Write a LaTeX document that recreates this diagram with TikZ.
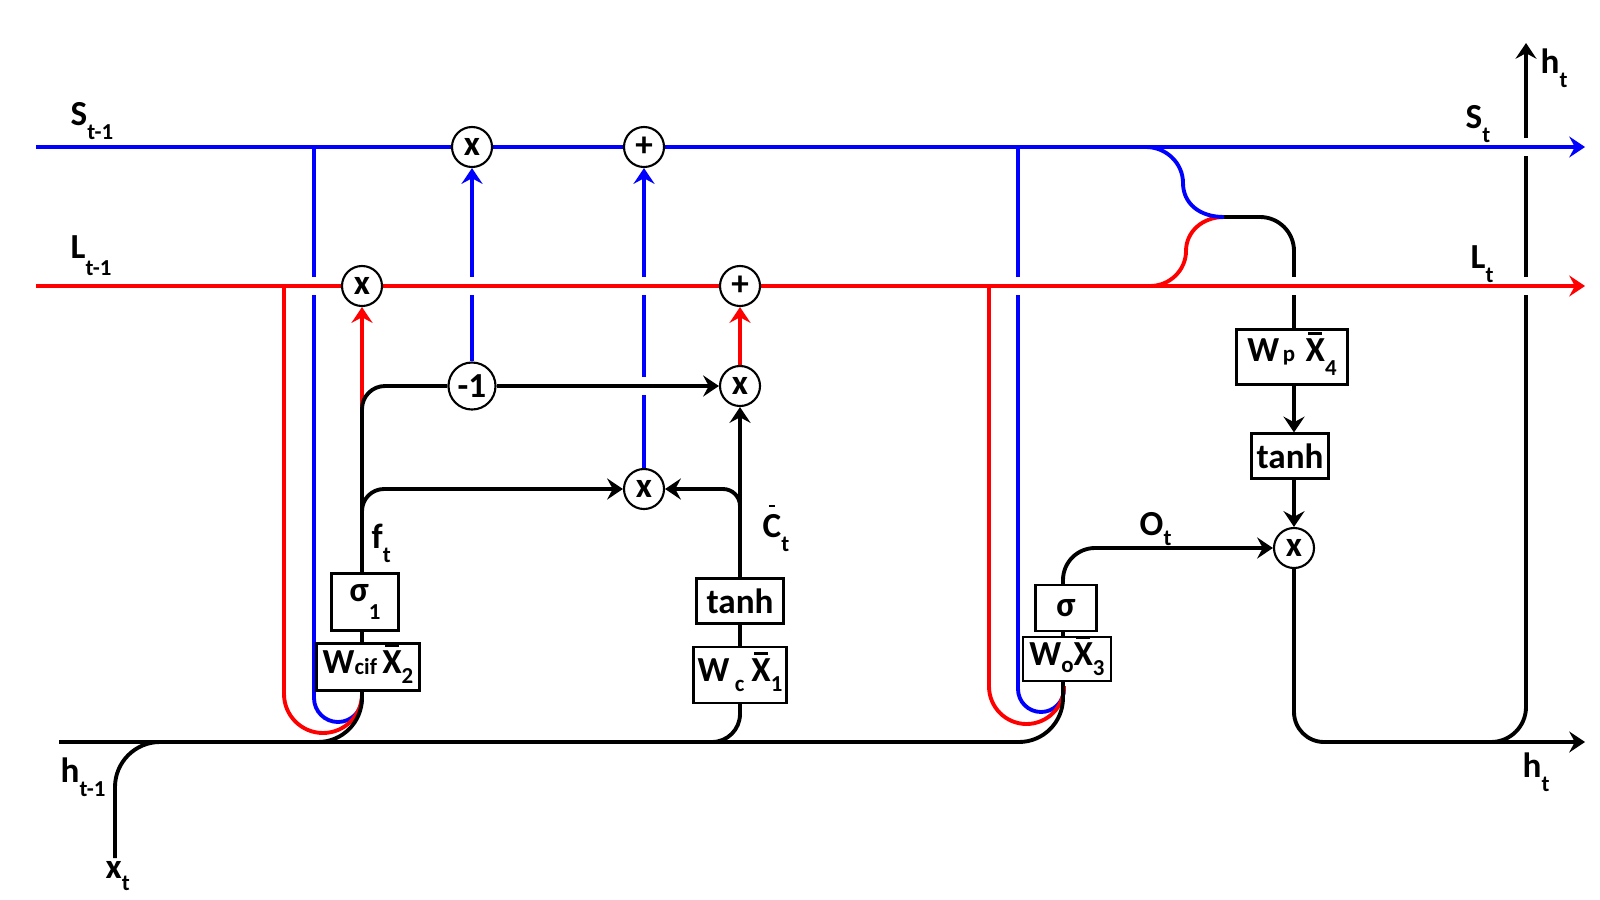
\documentclass[tikz,border=0pt]{standalone}
\usepackage{fontspec}
\setmainfont{Carlito}
\usetikzlibrary{arrows.meta,backgrounds}
\definecolor{sblue}{RGB}{0,0,255}
\definecolor{lred}{RGB}{255,0,0}

% lowered small index
\newcommand{\sbs}[2][4pt]{\raisebox{-#1}{\fontsize{6.5}{7}\selectfont #2}}
% X and C with a bar on top
\newcommand{\xb}{\ooalign{X\cr\hidewidth\rule[7.4pt]{4pt}{0.9pt}\hidewidth\cr}}
\newcommand{\cb}{\ooalign{C\cr\hidewidth\rule[8.4pt]{1.8pt}{0.8pt}\hidewidth\cr}}

\begin{document}
\begin{tikzpicture}[x=0.01cm, y=-0.01cm,
  font=\fontsize{10}{12}\selectfont\bfseries,
  wire/.style={line width=1.1pt},
  arr/.style={-{Stealth[length=4.5pt,width=6pt,inset=1.6pt]}},
  halo/.style={preaction={draw=white, line width=5pt, -}},
  op/.style={circle, draw, line width=0.6pt, fill=white, minimum size=0.4cm, inner sep=0pt},
  gate/.style={draw, line width=0.6pt, fill=white, inner sep=0pt},
  lab/.style={inner sep=0pt, anchor=base west},
]
\useasboundingbox (0,0) rectangle (1600,900);

% column positions
\coordinate (cL) at (362,0);
\coordinate (cM) at (740,0);
\coordinate (cR) at (1063,0);

% line ends
\coordinate (sin) at (36,147);
\coordinate (send) at (1585,147);
\coordinate (lin) at (36,286);
\coordinate (lend) at (1585,286);
\coordinate (hin) at (59,742);
\coordinate (hout) at (1585,742);
\coordinate (xin) at (115,858);
\coordinate (htop) at (1526,43);

% operators
\node[op] (xs) at (472,147) {x};
\node[op] (ps) at (644,147) {+};
\node[op] (x1) at (362,286) {x};
\node[op] (pl) at (740,286) {+};
\node[op, minimum size=0.47cm] (m1) at (472,386) {-1};
\node[op] (x3) at (740,386) {x};
\node[op] (x2) at (644,489) {x};
\node[op] (x4) at (1294,548) {x};

% gates
\node[gate, minimum width=0.67cm, minimum height=0.57cm] (sg1) at (365,602) {σ\sbs[5pt]{1}};
\node[gate, minimum width=1.03cm, minimum height=0.47cm] (wg1) at (368,667) {W\sbs[0.5pt]{cif}\hspace{1.5pt}\xb\sbs[3pt]{2}};
\node[gate, minimum width=0.87cm, minimum height=0.45cm] (th1) at (740,601) {tanh};
\node[gate, minimum width=0.93cm, minimum height=0.56cm] (wg2) at (740,675) {W\hspace{1.5pt}\sbs[3pt]{c}\hspace{2pt}\xb\sbs[3pt]{1}};
\node[gate, minimum width=0.61cm, minimum height=0.46cm] (sgo) at (1066,608) {σ};
\node[gate, minimum width=0.88cm, minimum height=0.44cm] (wgo) at (1067,659) {W\sbs[2pt]{o}\xb\sbs[3pt]{3}};
\node[gate, minimum width=1.11cm, minimum height=0.55cm] (wgp) at (1292,357) {W\hspace{1pt}{\fontsize{6.5}{7}\selectfont p}\hspace{3pt}\xb\sbs[4pt]{4}};
\node[gate, minimum width=0.77cm, minimum height=0.45cm] (th2) at (1290,456) {tanh};

% labels
\node[lab] at (70,125) {S\sbs{t-1}};
\node[lab] at (70,258) {L\sbs[5pt]{t-1}};
\node[lab] at (60,782) {h\sbs{t-1}};
\node[lab] at (105,878) {x\sbs[3.5pt]{t}};
\node[lab] at (371,548) {f\sbs{t}};
\node[lab] at (762,537) {\cb\sbs{t}};
\node[lab] at (1139,535) {O\sbs[3pt]{t}};
\node[lab] at (1465,128) {S\sbs{t}};
\node[lab] at (1470,268) {L\sbs{t}};
\node[lab] at (1540,73) {h\sbs{t}};
\node[lab] at (1522,777) {h\sbs{t}};

\begin{pgfonlayer}{background}
% blue taps from S and blue connectors
\draw[wire, sblue, rounded corners=0.24cm] (314,147) -- (314,722) -- (362,722) -- (362,690);
\draw[wire, sblue, rounded corners=0.23cm] (1018,147) -- (1018,712) -- (1064,712) -- (1064,690);
\draw[wire, sblue, arr] (m1) -- (xs);
\draw[wire, sblue, arr] (x2) -- (ps);

% black verticals crossing L
\draw[wire, rounded corners=0.34cm] (1222,217) -- (1294,217) -- (wgp.north -| x4);
\draw[wire, rounded corners=0.35cm] (1470,742) -- (1526,742) -- (1526,156);
\draw[wire, arr] (1526,138) -- (htop);

% -1 branch over the blue line
\draw[wire, arr, halo] (m1) -- (x3);

% L and S lines
\draw[wire, lred, arr, halo] (lin) -- (lend);
\draw[wire, sblue, arr] (sin) -- (send);

% red taps and connectors
\draw[wire, lred, rounded corners=0.39cm] (284,286) -- (284,733) -- (362,733) -- (362,690);
\draw[wire, lred, rounded corners=0.375cm] (989,286) -- (989,724) -- (1064,724) -- (1064,686);
\draw[wire, lred, arr] (362,409) -- (x1);
\draw[wire, lred, arr] (x3) -- (pl);

% S and L merging into the projection branch
\draw[wire, lred] (1150,286) .. controls (1170,286) and (1186,270) .. (1186,251)
  .. controls (1186,232) and (1202,217) .. (1224,217);
\draw[wire, sblue] (1146,147) .. controls (1166,147) and (1183,163) .. (1183,183)
  .. controls (1183,203) and (1199,217) .. (1224,217);

% input line and branches
\draw[wire, rounded corners=0.45cm] (xin) -- (115,742) -- (180,742);
\draw[wire, rounded corners=0.44cm] (hin) -- (1063,742) -- (wgo.south -| cR);
\draw[wire, rounded corners=0.44cm] (290,742) -- (362,742) -- (wg1.south -| cL);
\draw[wire, rounded corners=0.28cm] (690,742) -- (740,742) -- (wg2.south -| cM);

% left column
\draw[wire] (wg1.north -| cL) -- (sg1.south -| cL);
\draw[wire, rounded corners=0.23cm] (sg1.north -| cL) -- (362,386) -- (m1);
\draw[wire, arr, rounded corners=0.22cm] (362,530) -- (362,489) -- (x2);

% middle column
\draw[wire] (wg2.north -| cM) -- (th1.south -| cM);
\draw[wire, arr] (th1.north -| cM) -- (x3);
\draw[wire, arr, rounded corners=0.17cm] (740,530) -- (740,489) -- (x2);

% output gate
\draw[wire] (wgo.north -| cR) -- (sgo.south -| cR);
\draw[wire, arr, rounded corners=0.32cm] (sgo.north -| cR) -- (1063,548) -- (x4);

% projection column
\draw[wire, arr] (wgp.south -| x4) -- (th2.north -| x4);
\draw[wire, arr] (th2.south -| x4) -- (x4);
\draw[wire, arr, rounded corners=0.3cm] (x4) -- (1294,742) -- (hout);
\end{pgfonlayer}
\end{tikzpicture}
\end{document}
